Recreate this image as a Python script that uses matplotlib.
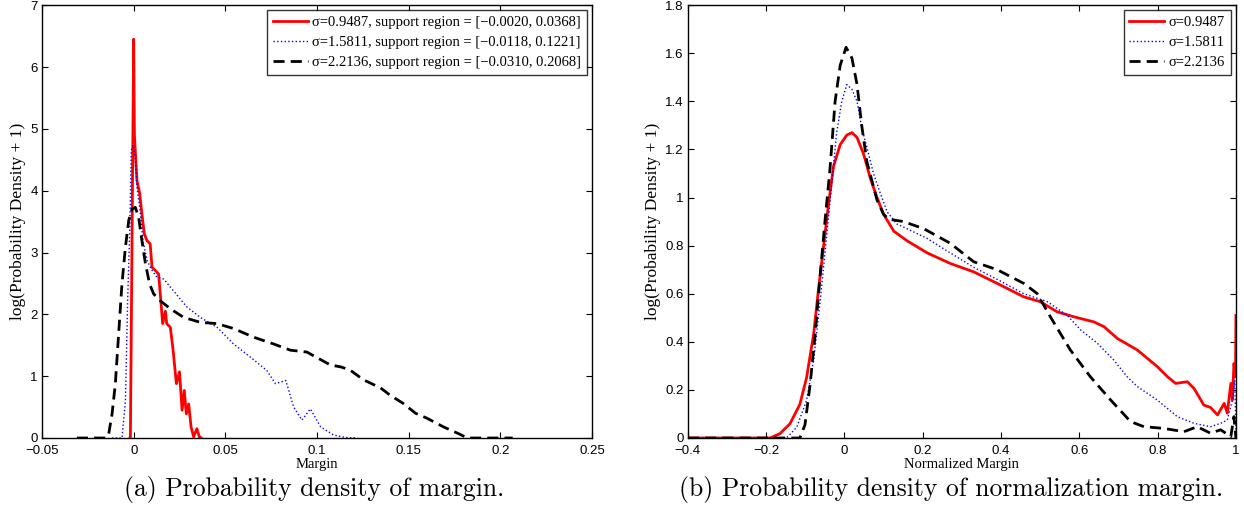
import matplotlib.pyplot as plt
from matplotlib.ticker import FuncFormatter, MultipleLocator

# Kernel widths of the three runs
sigmas = [0.9487, 1.5811, 2.2136]
supports = [(-0.0020, 0.0368), (-0.0118, 0.1221), (-0.0310, 0.2068)]

# (a) log(density + 1) of the raw margin
margin_x_s1 = [-0.0020, -0.0018, 0.0000, 0.0004, 0.0018, 0.0033, 0.0045, 0.0058, 0.0073,
               0.0090, 0.0100, 0.0118, 0.0136, 0.0145, 0.0158, 0.0173, 0.0180, 0.0200,
               0.0215, 0.0233, 0.0250, 0.0264, 0.0276, 0.0287, 0.0300, 0.0313, 0.0327,
               0.0345, 0.0360, 0.0368]
margin_y_s1 = [0.0, 0.0, 6.45, 4.90, 4.16, 3.95, 3.62, 3.30, 3.19,
               3.14, 2.76, 2.71, 2.65, 2.33, 1.85, 2.05, 1.85, 1.79,
               1.42, 0.88, 1.07, 0.45, 0.77, 0.39, 0.55, 0.18, 0.02,
               0.15, 0.0, 0.0]

margin_x_s2 = [-0.0118, -0.0064, -0.0045, -0.0033, -0.0022, -0.0013, -0.0004, 0.0009,
               0.0018, 0.0033, 0.0051, 0.0073, 0.0100, 0.0127, 0.0164, 0.0200, 0.0290,
               0.0364, 0.0455, 0.0545, 0.0636, 0.0727, 0.0773, 0.0830, 0.0873, 0.0918,
               0.0964, 0.1020, 0.1090, 0.1150, 0.1221]
margin_y_s2 = [0.0, 0.0, 0.60, 2.22, 3.30, 4.65, 4.74, 4.54,
               4.05, 3.73, 3.19, 2.87, 2.71, 2.60, 2.57, 2.44, 2.12,
               1.95, 1.79, 1.52, 1.31, 1.09, 0.88, 0.93, 0.50, 0.29,
               0.47, 0.18, 0.05, 0.01, 0.0]

margin_x_s3 = [-0.0310, -0.0150, -0.0136, -0.0118, -0.0100, -0.0082, -0.0064, -0.0045,
               -0.0027, -0.0009, 0.0009, 0.0027, 0.0045, 0.0064, 0.0087, 0.0109, 0.0145,
               0.0200, 0.0273, 0.0364, 0.0455, 0.0545, 0.0655, 0.0764, 0.0855, 0.0945,
               0.1000, 0.1074, 0.1130, 0.1180, 0.1254, 0.1347, 0.1400, 0.1470, 0.1538,
               0.1600, 0.1690, 0.1780, 0.1820, 0.2068]
margin_y_s3 = [0.0, 0.0, 0.07, 0.39, 0.88, 1.69, 2.49, 3.09,
               3.52, 3.70, 3.73, 3.57, 3.19, 2.82, 2.49, 2.33, 2.22,
               2.09, 1.95, 1.87, 1.85, 1.77, 1.63, 1.52, 1.42, 1.39,
               1.30, 1.18, 1.15, 1.10, 0.94, 0.81, 0.69, 0.56, 0.40,
               0.32, 0.18, 0.06, 0.0, 0.0]

# (b) log(density + 1) of the normalized margin
norm_x_s1 = [-0.40, -0.19, -0.165, -0.139, -0.114, -0.097, -0.079, -0.067, -0.054, -0.041,
             -0.028, -0.011, 0.006, 0.019, 0.032, 0.049, 0.066, 0.083, 0.100, 0.126,
             0.160, 0.211, 0.270, 0.330, 0.390, 0.458, 0.500, 0.543, 0.586, 0.637,
             0.663, 0.697, 0.748, 0.799, 0.825, 0.846, 0.876, 0.893, 0.918, 0.935,
             0.953, 0.970, 0.978, 0.987, 0.991, 0.995, 0.999, 1.000]
norm_y_s1 = [0.0, 0.0, 0.018, 0.06, 0.14, 0.25, 0.43, 0.61, 0.79, 0.97,
             1.13, 1.22, 1.26, 1.27, 1.25, 1.18, 1.08, 1.00, 0.93, 0.86,
             0.82, 0.77, 0.726, 0.691, 0.643, 0.587, 0.567, 0.525, 0.504, 0.483,
             0.463, 0.414, 0.366, 0.297, 0.255, 0.227, 0.234, 0.206, 0.137, 0.127,
             0.096, 0.144, 0.103, 0.227, 0.158, 0.31, 0.255, 0.51]

norm_x_s2 = [-0.40, -0.148, -0.122, -0.097, -0.079, -0.062, -0.045, -0.032, -0.020, -0.007,
             0.006, 0.019, 0.032, 0.044, 0.057, 0.074, 0.091, 0.109, 0.134, 0.160,
             0.211, 0.270, 0.330, 0.390, 0.458, 0.518, 0.569, 0.603, 0.646, 0.688,
             0.722, 0.748, 0.799, 0.850, 0.893, 0.935, 0.961, 0.978, 0.991, 0.997,
             1.000]
norm_y_s2 = [0.0, 0.0, 0.045, 0.156, 0.32, 0.57, 0.85, 1.07, 1.27, 1.40,
             1.47, 1.45, 1.40, 1.29, 1.21, 1.10, 1.02, 0.94, 0.89, 0.87,
             0.83, 0.77, 0.71, 0.66, 0.60, 0.567, 0.51, 0.45, 0.394, 0.324,
             0.255, 0.214, 0.158, 0.089, 0.061, 0.047, 0.061, 0.075, 0.158, 0.24,
             0.03]

norm_x_s3 = [-0.40, -0.114, -0.101, -0.088, -0.075, -0.062, -0.050, -0.037, -0.024, -0.011,
             0.004, 0.019, 0.032, 0.044, 0.057, 0.070, 0.083, 0.100, 0.113, 0.151,
             0.203, 0.270, 0.330, 0.390, 0.458, 0.492, 0.526, 0.577, 0.628, 0.680,
             0.731, 0.765, 0.816, 0.867, 0.901, 0.935, 0.961, 0.987, 0.995, 1.000]
norm_y_s3 = [0.0, 0.0, 0.055, 0.22, 0.43, 0.68, 0.90, 1.12, 1.40, 1.55,
             1.625, 1.58, 1.47, 1.30, 1.15, 1.07, 0.99, 0.93, 0.91, 0.90,
             0.87, 0.81, 0.733, 0.70, 0.643, 0.601, 0.504, 0.366, 0.255, 0.158,
             0.068, 0.047, 0.04, 0.026, 0.047, 0.02, 0.034, 0.006, 0.089, 0.0]

serif = ['Liberation Serif', 'DejaVu Serif']
sans = ['Liberation Sans', 'DejaVu Sans']
styles = [dict(color='red', ls='-', lw=2.0),
          dict(color='blue', ls=':', lw=1.0),
          dict(color='black', ls='--', lw=2.0, dashes=(4, 2.2))]


def matlab_axes(ax):
    ax.tick_params(direction='in', top=True, right=True, length=4, width=0.8,
                   labelsize=9.5, pad=3)
    ax.tick_params(axis='x', pad=5)
    for lab in ax.get_xticklabels() + ax.get_yticklabels():
        lab.set_family(sans)
    for sp in ax.spines.values():
        sp.set_linewidth(1.0)
    fmt = FuncFormatter(lambda v, p: ('%g' % round(v, 6)).replace('-', '\u2212'))
    ax.xaxis.set_major_formatter(fmt)
    ax.yaxis.set_major_formatter(fmt)


fig = plt.figure(figsize=(12.44, 5.08), dpi=100)
ax1 = fig.add_axes([0.0338, 0.1378, 0.442, 0.852])
ax2 = fig.add_axes([0.553, 0.1378, 0.4405, 0.852])

# left panel
series_a = [(margin_x_s1, margin_y_s1), (margin_x_s2, margin_y_s2), (margin_x_s3, margin_y_s3)]
for (xs, ys), s, sup, st in zip(series_a, sigmas, supports, styles):
    lbl = '\u03c3=%.4f, support region = [%s, %.4f]' % (
        s, ('%.4f' % sup[0]).replace('-', '\u2212'), sup[1])
    ax1.plot(xs, ys, label=lbl, **st)
ax1.set_xlim(-0.05, 0.25)
ax1.set_ylim(0, 7)
ax1.xaxis.set_major_locator(MultipleLocator(0.05))
ax1.yaxis.set_major_locator(MultipleLocator(1))
ax1.set_xlabel('Margin', family=serif, fontsize=10.5, labelpad=1)
ax1.set_ylabel('log(Probability Density + 1)', family=serif, fontsize=12.5, labelpad=3)
matlab_axes(ax1)
leg1 = ax1.legend(loc='upper right', prop={'family': serif, 'size': 10.5},
                  fancybox=False, edgecolor='black', handlelength=2.4,
                  borderaxespad=0.35, labelspacing=0.45, handletextpad=0.3,
                  borderpad=0.4)
leg1.get_frame().set_linewidth(1.0)

# right panel
series_b = [(norm_x_s1, norm_y_s1), (norm_x_s2, norm_y_s2), (norm_x_s3, norm_y_s3)]
for (xs, ys), s, st in zip(series_b, sigmas, styles):
    ax2.plot(xs, ys, label='\u03c3=%.4f' % s, **st)
ax2.set_xlim(-0.4, 1.0)
ax2.set_ylim(0, 1.8)
ax2.xaxis.set_major_locator(MultipleLocator(0.2))
ax2.yaxis.set_major_locator(MultipleLocator(0.2))
ax2.set_xlabel('Normalized Margin', family=serif, fontsize=10.5, labelpad=1)
ax2.set_ylabel('log(Probability Density + 1)', family=serif, fontsize=12.5, labelpad=3)
matlab_axes(ax2)
leg2 = ax2.legend(loc='upper right', prop={'family': serif, 'size': 10.5},
                  fancybox=False, edgecolor='black', handlelength=2.4,
                  borderaxespad=0.35, labelspacing=0.45, handletextpad=0.3,
                  borderpad=0.4)
leg2.get_frame().set_linewidth(1.0)

# sub-figure captions
fig.text(0.2524, 0.037, '(a) Probability density of margin.', family=['cmr10', 'DejaVu Serif'],
         fontsize=18.5, ha='center', va='center')
fig.text(0.7645, 0.037, '(b) Probability density of normalization margin.',
         family=['cmr10', 'DejaVu Serif'], fontsize=18.5, ha='center', va='center')

fig.savefig('out.png', dpi=100)
